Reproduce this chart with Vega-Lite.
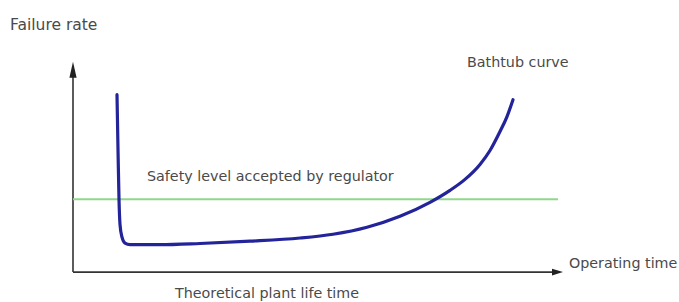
{
  "$schema": "https://vega.github.io/schema/vega-lite/v6.json",
  "autosize": {"type": "fit", "contains": "padding"},
  "width": 679,
  "height": 302,
  "padding": 0,
  "background": "white",
  "config": {"view": {"stroke": null}},
  "encoding": {
    "x": {"type": "quantitative", "scale": {"domain": [-73, 606], "nice": false, "zero": false}, "axis": null},
    "y": {"type": "quantitative", "scale": {"domain": [-29, 273], "nice": false, "zero": false}, "axis": null}
  },
  "layer": [
    {
      "data": {"values": [
        {"name": "Failure rate", "t": 0, "r": 0, "t2": 0, "r2": 196},
        {"name": "Operating time", "t": 0, "r": 0, "t2": 481, "r2": 0}
      ]},
      "mark": {"type": "rule", "color": "#333333", "strokeWidth": 1.6},
      "encoding": {
        "x": {"field": "t"}, "y": {"field": "r"},
        "x2": {"field": "t2"}, "y2": {"field": "r2"}
      }
    },
    {
      "data": {"values": [{"t": 0, "r": 203}]},
      "mark": {"type": "point", "shape": "M0,-1L0.45,1L-0.45,1Z", "size": 256, "filled": true, "color": "#222222", "opacity": 1},
      "encoding": {"x": {"field": "t"}, "y": {"field": "r"}}
    },
    {
      "data": {"values": [{"t": 484.5, "r": 0}]},
      "mark": {"type": "point", "shape": "M1,0L-1,0.6L-1,-0.6Z", "size": 121, "filled": true, "color": "#222222", "opacity": 1},
      "encoding": {"x": {"field": "t"}, "y": {"field": "r"}}
    },
    {
      "data": {"values": [{"t": 0, "r": 73, "t2": 485}]},
      "mark": {"type": "rule", "color": "#8fd88a", "strokeWidth": 2},
      "encoding": {"x": {"field": "t"}, "y": {"field": "r"}, "x2": {"field": "t2"}}
    },
    {
      "data": {"values": [
        {"t": 44, "r": 178}, {"t": 45, "r": 123}, {"t": 46, "r": 73},
        {"t": 47, "r": 48}, {"t": 49, "r": 35}, {"t": 52, "r": 29},
        {"t": 57, "r": 27.5}, {"t": 87, "r": 27.5}, {"t": 127, "r": 28.7},
        {"t": 177, "r": 31}, {"t": 227, "r": 34.2}, {"t": 260, "r": 38},
        {"t": 294, "r": 45}, {"t": 327, "r": 56}, {"t": 357, "r": 70},
        {"t": 377, "r": 82}, {"t": 392, "r": 93}, {"t": 407, "r": 108},
        {"t": 417, "r": 122}, {"t": 427, "r": 141}, {"t": 434, "r": 156},
        {"t": 440, "r": 173}
      ]},
      "mark": {"type": "line", "color": "#23239a", "strokeWidth": 3.2, "interpolate": "monotone", "strokeCap": "round"},
      "encoding": {"x": {"field": "t"}, "y": {"field": "r"}}
    },
    {
      "data": {"values": [
        {"label": "Bathtub curve", "t": 394, "r": 210},
        {"label": "Safety level accepted by regulator", "t": 74, "r": 95},
        {"label": "Operating time", "t": 496, "r": 8},
        {"label": "Theoretical plant life time", "t": 102, "r": -22}
      ]},
      "mark": {"type": "text", "align": "left", "baseline": "middle", "font": "DejaVu Sans", "fontSize": 14.3, "color": "#4a4a4a"},
      "encoding": {"x": {"field": "t"}, "y": {"field": "r"}, "text": {"field": "label"}}
    },
    {
      "data": {"values": [
        {"label": "Failure rate", "t": -63, "r": 248}
      ]},
      "mark": {"type": "text", "align": "left", "baseline": "middle", "font": "DejaVu Sans", "fontSize": 15.5, "color": "#4a4a4a"},
      "encoding": {"x": {"field": "t"}, "y": {"field": "r"}, "text": {"field": "label"}}
    }
  ]
}
